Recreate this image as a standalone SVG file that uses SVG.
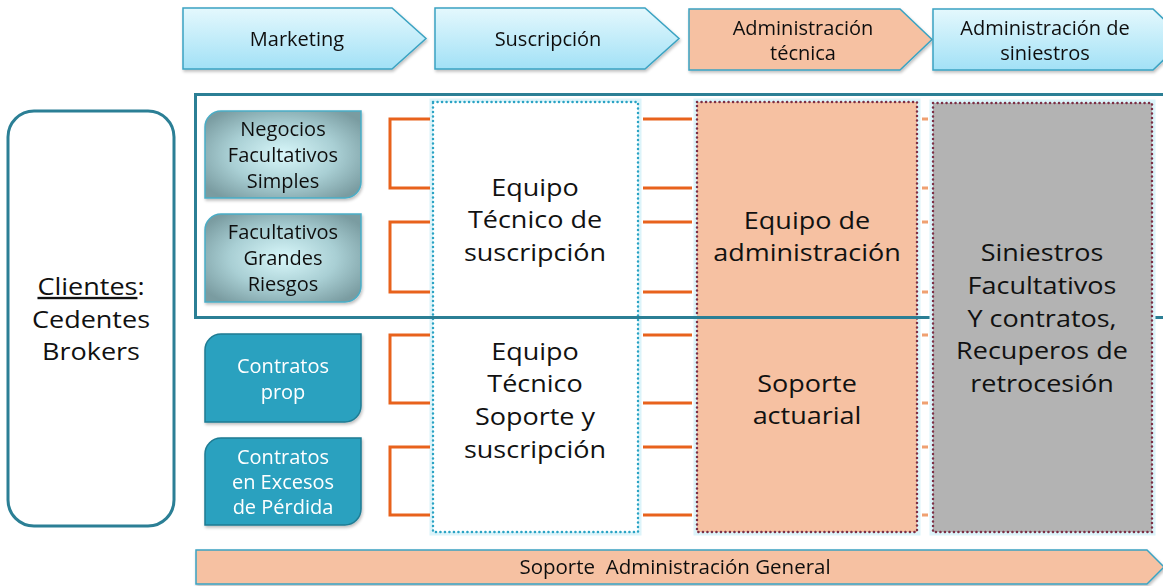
<svg xmlns="http://www.w3.org/2000/svg" width="1163" height="586" viewBox="0 0 1163 586">
<defs>
<linearGradient id="gChev" x1="0" y1="0" x2="0" y2="1">
<stop offset="0" stop-color="#e4f8fd"/>
<stop offset="1" stop-color="#a2e1f6"/>
</linearGradient>
<radialGradient id="gNode" cx="0.5" cy="0.5" r="0.62">
<stop offset="0" stop-color="#d8f7fa"/>
<stop offset="0.55" stop-color="#a9cfd4"/>
<stop offset="1" stop-color="#7a9ca1"/>
</radialGradient>
<filter id="sh" x="-10%" y="-10%" width="120%" height="130%">
<feGaussianBlur in="SourceAlpha" stdDeviation="1.5"/>
<feOffset dx="1" dy="2" result="b"/>
<feFlood flood-color="#000" flood-opacity="0.25"/>
<feComposite in2="b" operator="in"/>
<feMerge><feMergeNode/><feMergeNode in="SourceGraphic"/></feMerge>
</filter>
</defs>
<style>
text{font-family:"Open Sans","Noto Sans","Liberation Sans",sans-serif;text-anchor:middle;fill:#111;}
.h{font-size:20px;}
.s{font-size:20px;}
.b{font-size:23.5px;}
.w{fill:#fff;}
.chev{fill:url(#gChev);stroke:#3ba3c2;stroke-width:1.5;}
.chevO{fill:#f6c1a2;stroke:#3ba3c2;stroke-width:1.5;}
.nl{fill:url(#gNode);stroke:#49adc6;stroke-width:1.5;}
.nd{fill:#2ba1bf;stroke:#1e7b93;stroke-width:1.5;}
.halo{fill:none;stroke:#dcf4fa;stroke-width:7;}
.con{stroke:#e8621c;stroke-width:3;fill:none;}
.dash{stroke:#f0a071;stroke-width:3;fill:none;}
</style>
<rect width="1163" height="586" fill="#fff"/>

<g id="phase-marketing" filter="url(#sh)">
<polygon class="chev" points="183,8 392,8 426,38.5 392,69 183,69"/>
<text class="h" x="297" y="45.5">Marketing</text>
</g>
<g id="phase-suscripcion" filter="url(#sh)">
<polygon class="chev" points="435,8 645,8 679,38.5 645,69 435,69"/>
<text class="h" x="548" y="45.5">Suscripción</text>
</g>
<g id="phase-admin-tecnica" filter="url(#sh)">
<polygon class="chevO" points="689,9 900,9 932,39.5 900,70 689,70"/>
<text class="h" x="803" y="35">Administración</text>
<text class="h" x="803" y="60">técnica</text>
</g>
<g id="phase-admin-siniestros" filter="url(#sh)">
<polygon class="chev" points="933,9 1153,9 1185,39.5 1153,70 933,70"/>
<text class="h" x="1045" y="35">Administración de</text>
<text class="h" x="1045" y="60">siniestros</text>
</g>

<g id="clientes">
<rect x="8" y="111" width="166" height="415" rx="26" fill="#fff" stroke="#2b7f95" stroke-width="3"/>
<g transform="translate(91 0) scale(1.149 1)">
<text class="b" x="0" y="295"><tspan text-decoration="underline">Clientes</tspan>:</text>
<text class="b" x="0" y="328">Cedentes</text>
<text class="b" x="0" y="360">Brokers</text>
</g>
</g>

<g id="equipo-tecnico">
<rect class="halo" x="433" y="102" width="205" height="430"/>
<rect x="433" y="102" width="205" height="430" fill="#fff" stroke="#2aa3c4" stroke-width="2.5" stroke-dasharray="0.1 4.4" stroke-linecap="round"/>
<g transform="translate(535 0) scale(1.149 1)">
<text class="b" x="0" y="196">Equipo</text>
<text class="b" x="0" y="228">Técnico de</text>
<text class="b" x="0" y="261">suscripción</text>
<text class="b" x="0" y="360">Equipo</text>
<text class="b" x="0" y="392">Técnico</text>
<text class="b" x="0" y="425">Soporte y</text>
<text class="b" x="0" y="458">suscripción</text>
</g>
</g>

<g id="administracion">
<rect class="halo" x="697" y="102" width="220" height="430"/>
<rect x="697" y="102" width="220" height="430" fill="#f6c1a2" stroke="#7c2f45" stroke-width="2.5" stroke-dasharray="0.1 4.4" stroke-linecap="round"/>
<g transform="translate(807 0) scale(1.149 1)">
<text class="b" x="0" y="229">Equipo de</text>
<text class="b" x="0" y="261">administración</text>
<text class="b" x="0" y="392">Soporte</text>
<text class="b" x="0" y="424">actuarial</text>
</g>
</g>

<g id="segmento-facultativo">
<rect x="195.5" y="94.5" width="990" height="223" fill="none" stroke="#2b7f95" stroke-width="3"/>
</g>

<g id="siniestros">
<rect class="halo" x="933" y="103" width="219" height="429"/>
<rect x="933" y="103" width="219" height="429" fill="#b3b3b3" stroke="#7c2f45" stroke-width="2.5" stroke-dasharray="0.1 4.4" stroke-linecap="round"/>
<g transform="translate(1042 0) scale(1.149 1)">
<text class="b" x="0" y="261">Siniestros</text>
<text class="b" x="0" y="294">Facultativos</text>
<text class="b" x="0" y="327">Y contratos,</text>
<text class="b" x="0" y="359">Recuperos de</text>
<text class="b" x="0" y="392">retrocesión</text>
</g>
</g>

<g id="negocios-facultativos-simples" filter="url(#sh)">
<path class="nl" d="M221,111 H361 V182 A16,16 0 0 1 345,198 H205 V127 A16,16 0 0 1 221,111 Z"/>
<text class="s" x="283" y="136">Negocios</text>
<text class="s" x="283" y="162">Facultativos</text>
<text class="s" x="283" y="188">Simples</text>
</g>
<g id="facultativos-grandes-riesgos" filter="url(#sh)">
<path class="nl" d="M221,214 H361 V286 A16,16 0 0 1 345,302 H205 V230 A16,16 0 0 1 221,214 Z"/>
<text class="s" x="283" y="239">Facultativos</text>
<text class="s" x="283" y="265">Grandes</text>
<text class="s" x="283" y="291">Riesgos</text>
</g>
<g id="contratos-prop" filter="url(#sh)">
<path class="nd" d="M221,334 H361 V406 A16,16 0 0 1 345,422 H205 V350 A16,16 0 0 1 221,334 Z"/>
<text class="s w" x="283" y="373">Contratos</text>
<text class="s w" x="283" y="399">prop</text>
</g>
<g id="contratos-excesos" filter="url(#sh)">
<path class="nd" d="M221,438 H361 V509 A16,16 0 0 1 345,525 H205 V454 A16,16 0 0 1 221,438 Z"/>
<text class="s w" x="283" y="464">Contratos</text>
<text class="s w" x="283" y="489">en Excesos</text>
<text class="s w" x="283" y="514">de Pérdida</text>
</g>

<g id="connectors">
<path class="con" d="M430,119 H390 V188 H430"/>
<path class="con" d="M430,222 H390 V292 H430"/>
<path class="con" d="M430,335 H390 V403 H430"/>
<path class="con" d="M430,447 H390 V515 H430"/>
<path class="con" d="M643,119 H692 M643,188 H692 M643,222 H692 M643,292 H692 M643,335 H692 M643,403 H692 M643,447 H692 M643,515 H692"/>
<path class="dash" d="M922,119 H928 M922,188 H928 M922,222 H928 M922,292 H928 M922,335 H928 M922,403 H928 M922,447 H928 M922,515 H928"/>
</g>

<g id="soporte-general" filter="url(#sh)">
<polygon class="chevO" points="196,550 1147,550 1164,567 1147,584 196,584"/>
<text class="s" x="675" y="574" style="white-space:pre;font-size:20.5px">Soporte  Administración General</text>
</g>
</svg>
